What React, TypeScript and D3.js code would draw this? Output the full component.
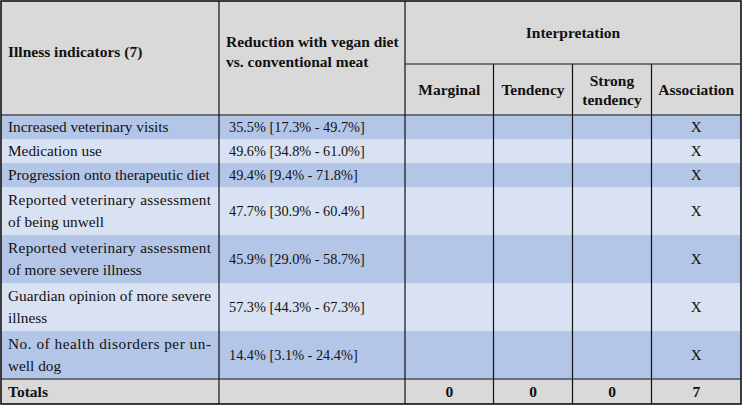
import React from "react";
import * as d3 from "d3";

const indicators: string[][] = [
  ["Increased veterinary visits"],
  ["Medication use"],
  ["Progression onto therapeutic diet"],
  ["Reported veterinary assessment", "of being unwell"],
  ["Reported veterinary assessment", "of more severe illness"],
  ["Guardian opinion of more severe", "illness"],
  ["No. of health disorders per un-", "well dog"],
];
const reduction = [35.5, 49.6, 49.4, 47.7, 45.9, 57.3, 14.4];
const lowerCI = [17.3, 34.8, 9.4, 30.9, 29.0, 44.3, 3.1];
const upperCI = [49.7, 61.0, 71.8, 60.4, 58.7, 67.3, 24.4];
const interpretationCols = ["Marginal", "Tendency", "Strong tendency", "Association"];
const marks: number[][] = [
  [0, 0, 0, 1],
  [0, 0, 0, 1],
  [0, 0, 0, 1],
  [0, 0, 0, 1],
  [0, 0, 0, 1],
  [0, 0, 0, 1],
  [0, 0, 0, 1],
];
const totals = [0, 0, 0, 7];

const W = 742;
const H = 406;
const colEdges = [1, 219, 405, 493.5, 572.5, 651.5, 741];
const FONT = "'Liberation Serif', 'Times New Roman', serif";
const DARK = "#b4c6e7";
const LIGHT = "#d9e2f3";
const GREY = "#d9d9d9";
const HFS = 15.5;

export default function App() {
  const top = 1;
  const headMid = 64;
  const headBottom = 115;
  const unit = 24;
  const rowTops: number[] = [];
  let y = headBottom;
  indicators.forEach((lines) => {
    rowTops.push(y);
    y += lines.length * unit;
  });
  const totalsTop = y;
  const bottom = 404;

  const fmt = d3.format(".1f");

  return (
    <svg
      width={W}
      height={H}
      style={{ position: "absolute", left: 0, top: 0, display: "block", background: "#fff" }}
      fontFamily={FONT}
    >
      <rect x={colEdges[0]} y={top} width={colEdges[6] - colEdges[0]} height={headBottom - top} fill={GREY} />
      {indicators.map((lines, i) => (
        <rect
          key={"bg" + i}
          x={colEdges[0]}
          y={rowTops[i]}
          width={colEdges[6] - colEdges[0]}
          height={lines.length * unit}
          fill={i % 2 === 0 ? DARK : LIGHT}
        />
      ))}
      <rect x={colEdges[0]} y={totalsTop} width={colEdges[6] - colEdges[0]} height={bottom - totalsTop} fill={GREY} />

      <text x={8} y={57} fontSize={HFS} fontWeight="bold" fill="#111">
        Illness indicators (7)
      </text>
      <text x={226} y={47} fontSize={HFS} fontWeight="bold" fill="#111">
        Reduction with vegan diet
      </text>
      <text x={226} y={67} fontSize={HFS} fontWeight="bold" fill="#111">
        vs. conventional meat
      </text>
      <text x={(colEdges[2] + colEdges[6]) / 2} y={38} fontSize={HFS} fontWeight="bold" textAnchor="middle" fill="#111">
        Interpretation
      </text>
      {interpretationCols.map((c, j) => {
        const cx = (colEdges[j + 2] + colEdges[j + 3]) / 2;
        const words = c.split(" ");
        if (words.length === 2) {
          return (
            <g key={"h" + j}>
              <text x={cx} y={86} fontSize={HFS} fontWeight="bold" textAnchor="middle" fill="#111">
                {words[0]}
              </text>
              <text x={cx} y={105} fontSize={HFS} fontWeight="bold" textAnchor="middle" fill="#111">
                {words[1]}
              </text>
            </g>
          );
        }
        return (
          <text key={"h" + j} x={cx} y={95} fontSize={HFS} fontWeight="bold" textAnchor="middle" fill="#111">
            {c}
          </text>
        );
      })}

      {indicators.map((lines, i) => {
        const rTop = rowTops[i];
        const h = lines.length * unit;
        const mid = rTop + h / 2;
        return (
          <g key={"r" + i}>
            {lines.map((ln, k) => {
              const ly = mid - ((lines.length - 1) * 22) / 2 + k * 22 + 5;
              const justify = lines.length > 1 && k === 0;
              return (
                <text
                  key={k}
                  x={8}
                  y={ly}
                  fontSize={15.3}
                  fill="#111"
                  {...(justify ? { textLength: 203, lengthAdjust: "spacing" } : {})}
                >
                  {ln}
                </text>
              );
            })}
            <text x={229} y={mid + 5} fontSize={14.3} fill="#111">
              {`${fmt(reduction[i])}% [${fmt(lowerCI[i])}% - ${fmt(upperCI[i])}%]`}
            </text>
            {marks[i].map((m, j) =>
              m ? (
                <text
                  key={"m" + j}
                  x={(colEdges[j + 2] + colEdges[j + 3]) / 2}
                  y={mid + 5}
                  fontSize={15}
                  textAnchor="middle"
                  fill="#111"
                >
                  X
                </text>
              ) : null
            )}
          </g>
        );
      })}

      <text x={8} y={(totalsTop + bottom) / 2 + 5} fontSize={HFS} fontWeight="bold" fill="#111">
        Totals
      </text>
      {totals.map((t, j) => (
        <text
          key={"t" + j}
          x={(colEdges[j + 2] + colEdges[j + 3]) / 2}
          y={(totalsTop + bottom) / 2 + 5}
          fontSize={HFS}
          fontWeight="bold"
          textAnchor="middle"
          fill="#111"
        >
          {t}
        </text>
      ))}

      <g stroke="#111" strokeWidth={1.2}>
        {colEdges.slice(1, 6).map((x, j) => (
          <line key={"v" + j} x1={x} x2={x} y1={j >= 2 ? headMid : top} y2={bottom} />
        ))}
        <line x1={colEdges[2]} x2={colEdges[6]} y1={headMid} y2={headMid} />
        <line x1={colEdges[0]} x2={colEdges[6]} y1={headBottom} y2={headBottom} />
        <line x1={colEdges[0]} x2={colEdges[6]} y1={totalsTop} y2={totalsTop} />
      </g>
      <rect
        x={colEdges[0]}
        y={top}
        width={colEdges[6] - colEdges[0]}
        height={bottom - top}
        fill="none"
        stroke="#111"
        strokeWidth={1.6}
      />
    </svg>
  );
}
